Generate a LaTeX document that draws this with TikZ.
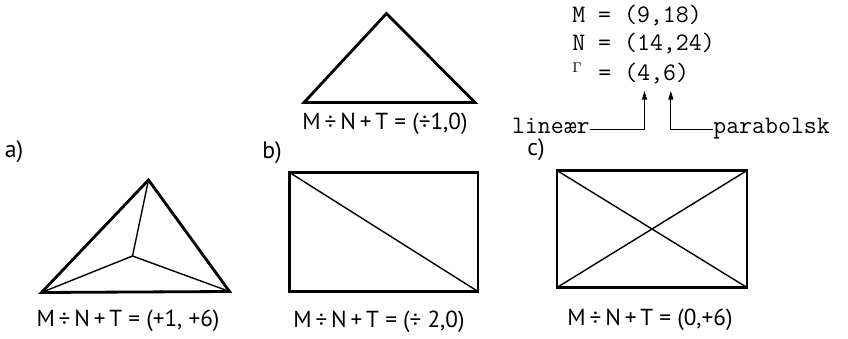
\documentclass[tikz,border=0pt]{standalone}
\usepackage{fontspec}
\setmainfont{PT Sans}
\usetikzlibrary{arrows.meta}

\begin{document}
\begin{tikzpicture}[
  fig/.style={line width=1.6pt, line join=miter},
  inner/.style={line width=0.8pt},
  eqn/.style={font=\fontsize{13.2}{15}\selectfont, inner sep=0pt},
  tag/.style={font=\fontsize{13.5}{15}\selectfont, inner sep=0pt},
  tw/.style={font=\ttfamily\fontsize{14.3}{17}\selectfont, inner sep=0pt},
  arr/.style={-{Triangle[length=1.7mm,width=1mm]}, line width=0.5pt}
]
\useasboundingbox (0,0) rectangle (16.96,6.78);

% top triangle
\draw[fig] (6.08,4.73) -- (7.73,6.51) -- (9.50,4.73) -- cycle;
\node[eqn] (e0) at (7.70,4.30) {M\,÷\,N\,+\,T = (÷1,0)};

% values
\node[tw, anchor=base west] (mrow) at (11.44,6.33) {M = (9,18)};
\node[tw, anchor=base west] (nrow) at (11.44,5.77) {N = (14,24)};
\node[tw, anchor=base west] (grow) at (11.44,5.17) {\makebox[0.525em][l]{\raisebox{0.3em}{\footnotesize$\Gamma$}} = (4,6)};
\coordinate (four) at ([xshift=5.5*7.5pt, yshift=-6pt]grow.base west);
\coordinate (six) at ([xshift=7.5*7.5pt, yshift=-6pt]grow.base west);
\node[tw, anchor=mid east] (lin) at (11.80,4.20) {lineær};
\node[tw, anchor=mid west] (par) at (14.26,4.20) {parabolsk};
\draw[arr] (lin.mid east) -| (four);
\draw[arr] (par.mid west) -| (six);

% a)
\node[tag] (la) at (0.28,3.74) {a)};
\coordinate (a1) at (0.83,0.93);
\coordinate (a2) at (2.97,3.18);
\coordinate (a3) at (4.59,0.95);
\coordinate (a0) at (2.65,1.66);
\draw[fig] (a1) -- (a2) -- (a3) -- cycle;
\draw[inner] (a2) -- (a0) -- (a1) (a0) -- (a3);
\node[eqn] (ea) at (2.56,0.36) {M\,÷\,N\,+\,T = (+1, +6)};

% b)
\node[tag] (lb) at (5.44,3.72) {b)};
\draw[fig] (5.79,0.95) rectangle (9.56,3.33);
\draw[inner] (5.79,3.33) -- (9.56,0.95);
\node[eqn] (eb) at (7.58,0.34) {M\,÷\,N\,+\,T = (÷ 2,0)};

% c)
\node[tag] (lc) at (10.72,3.78) {c)};
\draw[fig] (11.14,1.03) rectangle (14.94,3.37);
\draw[inner] (11.14,1.03) -- (14.94,3.37) (11.14,3.37) -- (14.94,1.03);
\node[eqn] (ec) at (13.0,0.38) {M\,÷\,N\,+\,T = (0,+6)};

\end{tikzpicture}
\end{document}
